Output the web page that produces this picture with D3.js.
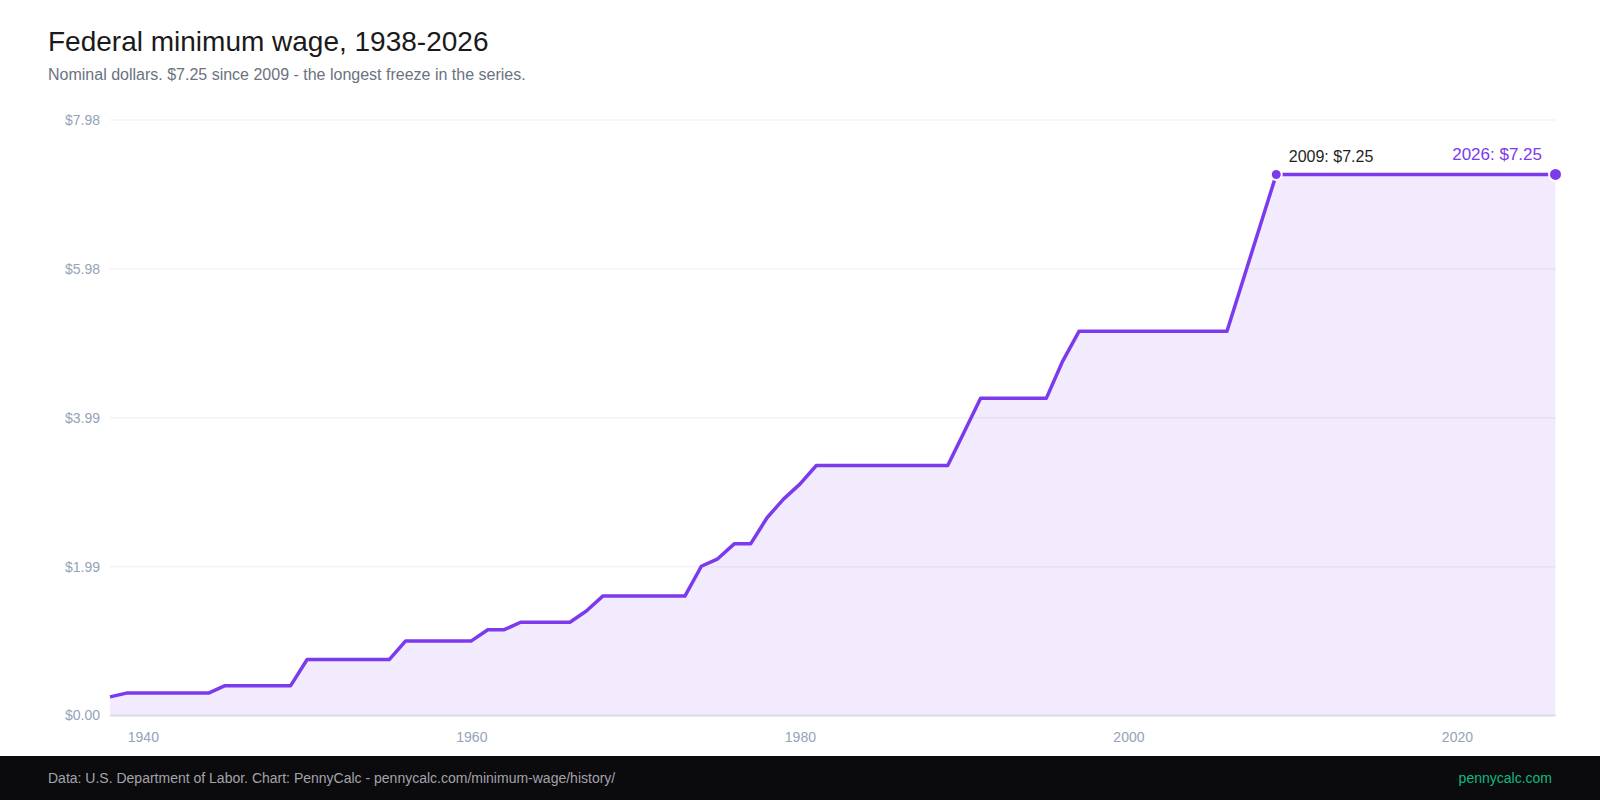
<!DOCTYPE html>
<html>
<head>
<meta charset="utf-8">
<script src="https://cdn.jsdelivr.net/npm/d3@7"></script>
<style>
  html, body { margin: 0; padding: 0; background: #fff; }
  svg { display: block; font-family: "Liberation Sans", Arial, Helvetica, sans-serif; }
</style>
</head>
<body>
<svg id="chart" width="1600" height="800"></svg>
<script>
// ---- Data ----
const years = [
  1938,1939,1940,1941,1942,1943,1944,1945,1946,1947,1948,1949,
  1950,1951,1952,1953,1954,1955,1956,1957,1958,1959,
  1960,1961,1962,1963,1964,1965,1966,1967,1968,1969,
  1970,1971,1972,1973,1974,1975,1976,1977,1978,1979,
  1980,1981,1982,1983,1984,1985,1986,1987,1988,1989,
  1990,1991,1992,1993,1994,1995,1996,1997,1998,1999,
  2000,2001,2002,2003,2004,2005,2006,2007,2008,2009,
  2010,2011,2012,2013,2014,2015,2016,2017,2018,2019,
  2020,2021,2022,2023,2024,2025,2026
];
const wages = [
  0.25,0.30,0.30,0.30,0.30,0.30,0.30,0.40,0.40,0.40,0.40,0.40,
  0.75,0.75,0.75,0.75,0.75,0.75,1.00,1.00,1.00,1.00,
  1.00,1.15,1.15,1.25,1.25,1.25,1.25,1.40,1.60,1.60,
  1.60,1.60,1.60,1.60,2.00,2.10,2.30,2.30,2.65,2.90,
  3.10,3.35,3.35,3.35,3.35,3.35,3.35,3.35,3.35,3.35,
  3.80,4.25,4.25,4.25,4.25,4.25,4.75,5.15,5.15,5.15,
  5.15,5.15,5.15,5.15,5.15,5.15,5.15,5.85,6.55,7.25,
  7.25,7.25,7.25,7.25,7.25,7.25,7.25,7.25,7.25,7.25,
  7.25,7.25,7.25,7.25,7.25,7.25,7.25
];
const yTickValues = [0, 1.995, 3.99, 5.985, 7.98];
const yTickLabels = ["$0.00", "$1.99", "$3.99", "$5.98", "$7.98"];
const xTickValues = [1940, 1960, 1980, 2000, 2020];
const highlightYear = 2009;
const lastYear = 2026;

const data = years.map((y, i) => ({ year: y, wage: wages[i] }));

// ---- Layout ----
const W = 1600, H = 800;
const m = { left: 110, right: 44.5, top: 120, bottom: 84.5 };
const purple = "#7c3aed";
const axisFont = "'Liberation Sans', Arial, sans-serif";

const svg = d3.select("#chart");

const x = d3.scaleLinear().domain([1938, 2026]).range([m.left, W - m.right]);
const y = d3.scaleLinear().domain([0, 7.98]).range([H - m.bottom, m.top]);

// Title
svg.append("text").attr("x", 48).attr("y", 51)
  .attr("font-size", 28).attr("fill", "#1a1a1a")
  .text("Federal minimum wage, 1938-2026");
svg.append("text").attr("x", 48).attr("y", 80)
  .attr("font-size", 16).attr("fill", "#6b7280")
  .text("Nominal dollars. $7.25 since 2009 - the longest freeze in the series.");

// Gridlines
svg.append("g").selectAll("line").data(yTickValues.slice(1)).join("line")
  .attr("x1", m.left).attr("x2", W - m.right)
  .attr("y1", d => y(d)).attr("y2", d => y(d))
  .attr("stroke", "#f3f3f6").attr("stroke-width", 1.5);

// Y axis labels
const yAxis = d3.axisLeft(y).tickValues(yTickValues)
  .tickFormat((d, i) => yTickLabels[i]).tickSize(0).tickPadding(10);
const gy = svg.append("g").attr("transform", `translate(${m.left},0)`).call(yAxis);
gy.select(".domain").remove();
gy.selectAll("text").attr("font-size", 14).attr("fill", "#94a3b8")
  .attr("font-family", axisFont);

// Area
const area = d3.area().x(d => x(d.year)).y0(y(0)).y1(d => y(d.wage));
svg.append("path").datum(data).attr("d", area)
  .attr("fill", purple).attr("fill-opacity", 0.1);

// Baseline
svg.append("line").attr("x1", m.left).attr("x2", W - m.right)
  .attr("y1", y(0)).attr("y2", y(0))
  .attr("stroke", "#dbd8ec").attr("stroke-width", 2);

// X axis labels
const xAxis = d3.axisBottom(x).tickValues(xTickValues)
  .tickFormat(d3.format("d")).tickSize(0).tickPadding(16.5);
const gx = svg.append("g").attr("transform", `translate(0,${y(0)})`).call(xAxis);
gx.select(".domain").remove();
gx.selectAll("text").attr("font-size", 14).attr("fill", "#94a3b8")
  .attr("font-family", axisFont);

// Line
const line = d3.line().x(d => x(d.year)).y(d => y(d.wage));
svg.append("path").datum(data).attr("d", line)
  .attr("fill", "none").attr("stroke", purple).attr("stroke-width", 3.5)
  .attr("stroke-linejoin", "round");

// Markers & annotations
const hl = data.find(d => d.year === highlightYear);
const last = data.find(d => d.year === lastYear);
svg.append("circle").attr("cx", x(hl.year)).attr("cy", y(hl.wage)).attr("r", 5.5)
  .attr("fill", purple).attr("stroke", "#fff").attr("stroke-width", 2);
svg.append("text").attr("x", x(hl.year) + 12.5).attr("y", y(hl.wage) - 12.5)
  .attr("font-size", 16).attr("fill", "#1f1f1f")
  .text(`${hl.year}: $${hl.wage.toFixed(2)}`);
svg.append("circle").attr("cx", x(last.year)).attr("cy", y(last.wage)).attr("r", 6.5)
  .attr("fill", purple).attr("stroke", "#fff").attr("stroke-width", 2);
svg.append("text").attr("x", x(last.year) - 13.5).attr("y", y(last.wage) - 14.5)
  .attr("text-anchor", "end").attr("font-size", 17).attr("fill", purple)
  .text(`${last.year}: $${last.wage.toFixed(2)}`);

// Footer
svg.append("rect").attr("x", 0).attr("y", 756).attr("width", W).attr("height", 44)
  .attr("fill", "#0b0b0d");
svg.append("text").attr("x", 48).attr("y", 783)
  .attr("font-size", 14).attr("fill", "#a3a3ab")
  .text("Data: U.S. Department of Labor. Chart: PennyCalc - pennycalc.com/minimum-wage/history/");
svg.append("text").attr("x", 1552).attr("y", 783).attr("text-anchor", "end")
  .attr("font-size", 14).attr("fill", "#10b981")
  .text("pennycalc.com");
</script>
</body>
</html>
